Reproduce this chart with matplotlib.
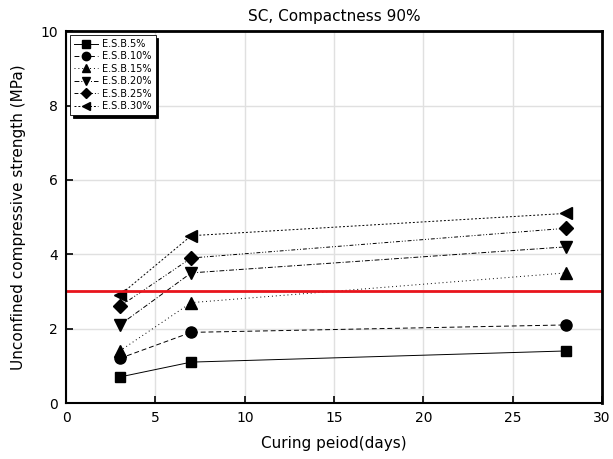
"""
Unconfined compressive strength vs curing period, SC at 90% compactness.
"""

import matplotlib.pyplot as plt

days = [3, 7, 28]
labels = ['E.S.B.5%', 'E.S.B.10%', 'E.S.B.15%', 'E.S.B.20%', 'E.S.B.25%', 'E.S.B.30%']
esb5 = [0.7, 1.1, 1.4]
esb10 = [1.2, 1.9, 2.1]
esb15 = [1.4, 2.7, 3.5]
esb20 = [2.1, 3.5, 4.2]
esb25 = [2.6, 3.9, 4.7]
esb30 = [2.9, 4.5, 5.1]
series = [esb5, esb10, esb15, esb20, esb25, esb30]
criterion = 3.0

markers = ['s', 'o', '^', 'v', 'D', '<']
sizes = [7, 8, 8, 8, 7, 8]
styles = ['-', (0, (5, 3)), (0, (1, 3)), (0, (5, 2, 1, 2)), (0, (4, 2, 1, 2, 1, 2)), (0, (2, 2))]

fig = plt.figure(figsize=(6.13, 4.59), dpi=100)
ax = fig.add_axes([0.108, 0.122, 0.874, 0.81])

for vals, lab, m, ms, ls in zip(series, labels, markers, sizes, styles):
    ax.plot(days, vals, color='black', marker=m, markersize=ms, linestyle=ls,
            linewidth=0.7, label=lab)

ax.axhline(criterion, color='#e8141c', linewidth=2)

ax.set_xlim(0, 30)
ax.set_ylim(0, 10)
ax.set_xticks(range(0, 31, 5))
ax.set_yticks(range(0, 11, 2))
ax.grid(True, color='#e0e0e0', linewidth=1)
ax.set_axisbelow(True)
ax.tick_params(direction='in', length=5, width=1.2, labelsize=10, pad=6)
for side in ['left', 'bottom']:
    ax.spines[side].set_linewidth(1.5)
for side in ['right', 'top']:
    ax.spines[side].set_linewidth(2)

ax.set_title('SC, Compactness 90%', fontsize=11, pad=7)
ax.set_xlabel('Curing peiod(days)', fontsize=11, labelpad=8)
ax.set_ylabel('Unconfined compressive strength (MPa)', fontsize=11, labelpad=10)

leg = ax.legend(loc='upper left', fontsize=7, frameon=True, shadow={'color': 'black', 'alpha': 1},
                fancybox=False, handlelength=2.5, labelspacing=0.25,
                borderaxespad=0.4, handletextpad=0.4, markerscale=0.75)
leg.get_frame().set_edgecolor('black')
leg.get_frame().set_linewidth(0.6)

fig.savefig('out.png', dpi=100)
